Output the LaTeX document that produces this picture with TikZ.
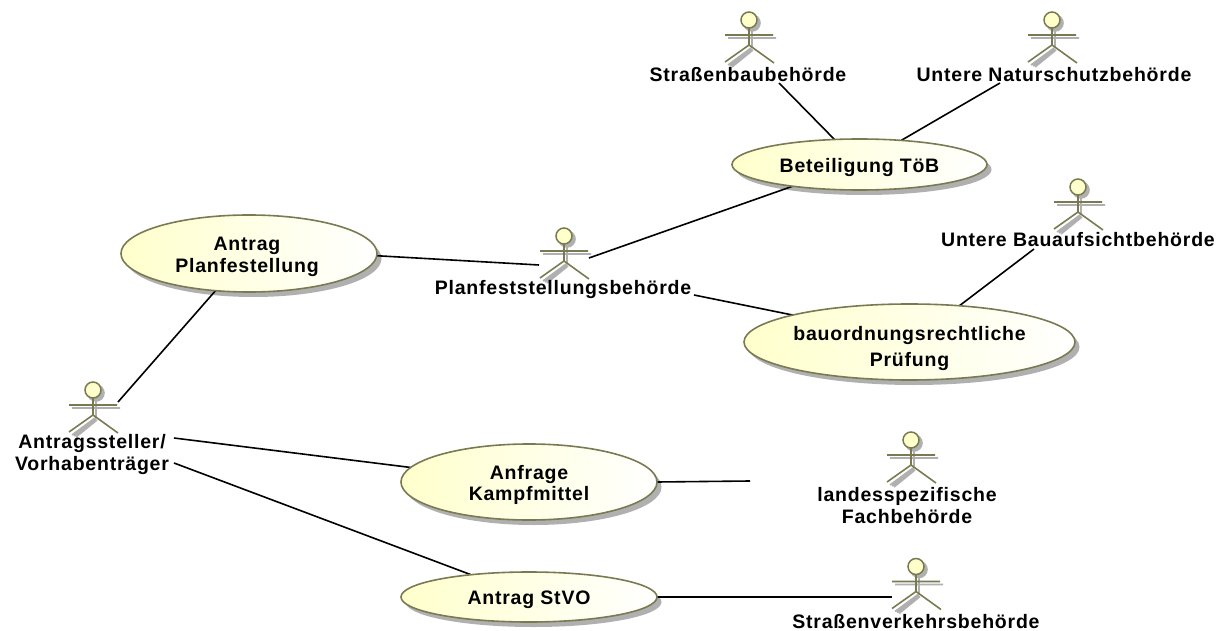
\documentclass[tikz,border=0pt]{standalone}
\usepackage{fontspec}
\setmainfont{Liberation Sans}[BoldFont=Liberation Sans Bold]
\newfontfamily\lblfont{Liberation Sans Bold}[LetterSpace=4]
\usetikzlibrary{shapes.geometric,shadings}
\pgfdeclarelayer{shad}
\pgfdeclarelayer{conn}
\pgfsetlayers{shad,conn,main}
\definecolor{umlline}{HTML}{7A7A52}
\definecolor{umlfill}{HTML}{FFFFCC}
\definecolor{umlshadow}{HTML}{B0B0B0}
\newcommand{\uctext}[2]{\raisebox{#1}[0pt][0pt]{\begin{tabular}[c]{@{}c@{}}#2\end{tabular}}}
\tikzset{x=1pt,y=-1pt,
  lbl/.style={font=\fontsize{19.5}{22}\selectfont\lblfont,align=center,inner sep=0pt,text=black},
  usecase/.style={ellipse,draw=umlline,line width=1.6pt,left color=umlfill,right color=white,inner sep=0pt,outer sep=0pt,font=\fontsize{19.5}{21.5}\selectfont\lblfont,align=center},
  conn/.style={draw=black,line width=1.6pt},
  actorfig/.pic={
    \draw[umlshadow,line width=1.6pt,shift={(3,3)}] (-24,15)--(24,15) (0,8)--(0,25) (-1,25)--(-24,42) (0,26)--(-22,43) (1,27)--(-20,44);
    \fill[umlshadow] (3,3) circle[radius=8.8];
    \draw[umlline,line width=1.6pt] (-24,15)--(24,15) (0,8)--(0,25)--(-24,42) (0,25)--(25,43);
    \draw[umlline,line width=1.5pt,fill=umlfill] (0,0) circle[radius=8];
  }}
\begin{document}
\begin{tikzpicture}
\useasboundingbox (0,0) rectangle (1223,631);
% actors
\pic at (749,20) {actorfig};
\pic at (1052,20) {actorfig};
\pic at (564,236) {actorfig};
\pic at (93,390) {actorfig};
\pic at (1078,187) {actorfig};
\pic at (911,440) {actorfig};
\pic at (916,566.5) {actorfig};
% actor labels
\node[lbl] (strb) at (748,75) {Straßenbaubehörde};
\node[lbl] (unb) at (1054,75) {Untere Naturschutzbehörde};
\node[lbl] (pfb) at (563,290) {Planfeststellungsbehörde};
\node[lbl] (uba) at (1078,240) {Untere Bauaufsichtbehörde};
\node[lbl] (ant) at (92,454) {Antragssteller/\\Vorhabenträger};
\node[lbl] (lfb) at (907,506) {landesspezifische\\Fachbehörde};
\node[lbl] (svb) at (916,622) {Straßenverkehrsbehörde};
% use cases
\foreach \nm/\cx/\cy/\w/\h/\txt in {
  ucb/859.5/164.5/255/51/{\uctext{-9pt}{Beteiligung TöB}},
  ucp/249/253.5/256/77/{\hspace*{-4pt}\uctext{-9pt}{Antrag\\Planfestellung}},
  ucr/909.5/342/331/76/{\uctext{-12.5pt}{bauordnungsrechtliche\\[4.5pt]Prüfung}},
  uck/529/482/256/76/{\uctext{-9pt}{Anfrage\\Kampfmittel}},
  ucs/529/597/256/50/{\uctext{-8.5pt}{Antrag StVO}}}{
  \begin{pgfonlayer}{shad}
  \fill[umlshadow] (\cx+4.5,\cy+5) ellipse[x radius=\w/2,y radius=\h/2];
  \end{pgfonlayer}
  \node[usecase,minimum width=\w pt,minimum height=\h pt] (\nm) at (\cx,\cy) {\txt};
}
% free ends
\coordinate (a1) at (779,83);
\coordinate (a2) at (1000,83);
\coordinate (a3) at (589,258);
\coordinate (a4) at (539,265);
\coordinate (a5) at (694,295);
\coordinate (a6) at (1034,249);
\coordinate (a7) at (118,402);
\coordinate (a8) at (174,438);
\coordinate (a9) at (174,463);
\coordinate (a10) at (750,481);
\coordinate (a11) at (892,597);
\begin{pgfonlayer}{conn}
\draw[conn] (a1) -- (ucb.135);
\draw[conn] (a2) -- (ucb.30.5);
\draw[conn] (a3) -- (ucb.198.5);
\draw[conn] (ucp.-1.6) -- (a4);
\draw[conn] (a7) -- (ucp.228.4);
\draw[conn] (a5) -- (ucr.167.6);
\draw[conn] (a6) -- (ucr.36.3);
\draw[conn] (a8) -- (uck.173.2);
\draw[conn] (uck.0.4) -- (a10);
\draw[conn] (a9) -- (ucs.159.4);
\draw[conn] (ucs.0) -- (a11);
\end{pgfonlayer}
\end{tikzpicture}
\end{document}
